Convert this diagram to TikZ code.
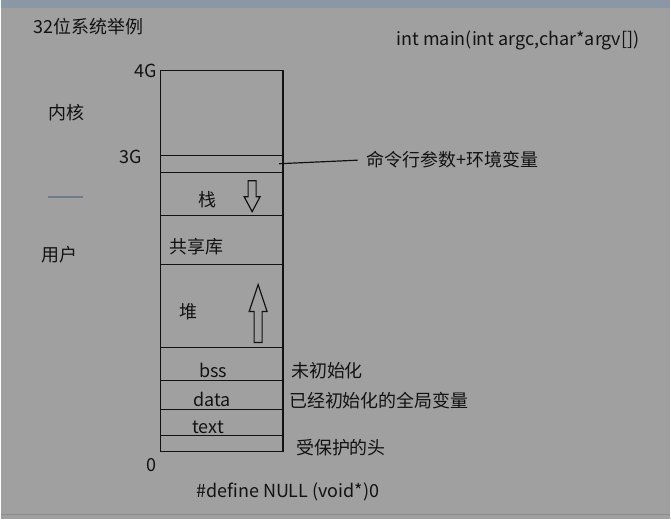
\documentclass[tikz,border=0pt]{standalone}
\usepackage{fontspec}
\setmainfont{Noto Sans CJK SC}
\usetikzlibrary{positioning}
\definecolor{screen}{HTML}{A0A0A0}
\definecolor{topbar}{HTML}{8C97A5}
\definecolor{ink}{HTML}{121212}
\definecolor{splitline}{HTML}{6E7B88}

\begin{document}
\begin{tikzpicture}
[x=0.75pt, y=-0.75pt,
every node/.style={inner sep=0pt, outer sep=0pt, text=ink, font=\fontsize{13.5}{15}\selectfont},
% one slice of the address space
seg/.style={rectangle, draw=ink, line width=0.9pt, minimum width=123*0.75pt, minimum height=#1*0.75pt},
% hollow arrows showing growth
growarrow/.style={draw=ink, line width=0.9pt, line join=miter},
% notes to the right of the box
note/.style={anchor=west}
]
% screen background
\fill[screen] (0,0) rectangle (671,520);
\fill[topbar] (0,0) rectangle (671,8);
\draw[black!45, line width=0.8pt] (0,515) -- (671,515);

% titles
\node[anchor=west] (title) at (33,27) {32位系统举例};
\node[anchor=east] (proto) at (640,40) {int main(int argc,char*argv[])};

% address space, top to bottom
\node[seg=85, anchor=north west] (kernel) at (160,71) {};
\node[seg=17, below=0pt of kernel] (args) {};
\node[seg=43, below=0pt of args] (stack) {};
\node[seg=49, below=0pt of stack] (shlib) {};
\node[seg=83, below=0pt of shlib] (heap) {};
\node[seg=33, below=0pt of heap] (bss) {};
\node[seg=29, below=0pt of bss] (data) {};
\node[seg=26, below=0pt of data] (text) {};
\node[seg=16, below=0pt of text] (guard) {};

% addresses
\node[anchor=east] (a4G) at (157,71) {4G};
\node[anchor=east] (a3G) at (142,157) {3G};
\node[anchor=east] (a0) at (156,466) {0};

% kernel / user
\node[anchor=west] (knl) at (48,113) {内核};
\draw[splitline, line width=1.5pt] (48,197) -- (83,197);
\node[anchor=west] (usr) at (41,255) {用户};

% names inside the box
\node (lstack) at (207,200) {栈};
\node (lshlib) at (196,247) {共享库};
\node (lheap) at (188,312) {堆};
\node (lbss) at (213,371) {bss};
\node (ldata) at (212,400) {data};
\node (ltext) at (208,428) {text};

% stack grows down, heap grows up
\draw[growarrow] (248,181) -- (256,181) -- (256,197) -- (260,197) -- (252,212) -- (244,197) -- (248,197) -- cycle;
\draw[growarrow] (254,343) -- (262,343) -- (262,312) -- (267,312) -- (258,285) -- (249,312) -- (254,312) -- cycle;

% notes
\node[note] (nargs) at (367,160) {命令行参数+环境变量};
\coordinate (pargs) at (279,164);
\draw[ink, line width=0.9pt, shorten >=7pt] (pargs) -- (nargs.west);
\node[note] (nbss) at (291,371) {未初始化};
\node[note] (ndata) at (289,401) {已经初始化的全局变量};
\node[note] (nguard) at (296,448) {受保护的头};

\node[anchor=west] (null) at (196,493) {\#define NULL (void*)0};
\end{tikzpicture}
\end{document}
